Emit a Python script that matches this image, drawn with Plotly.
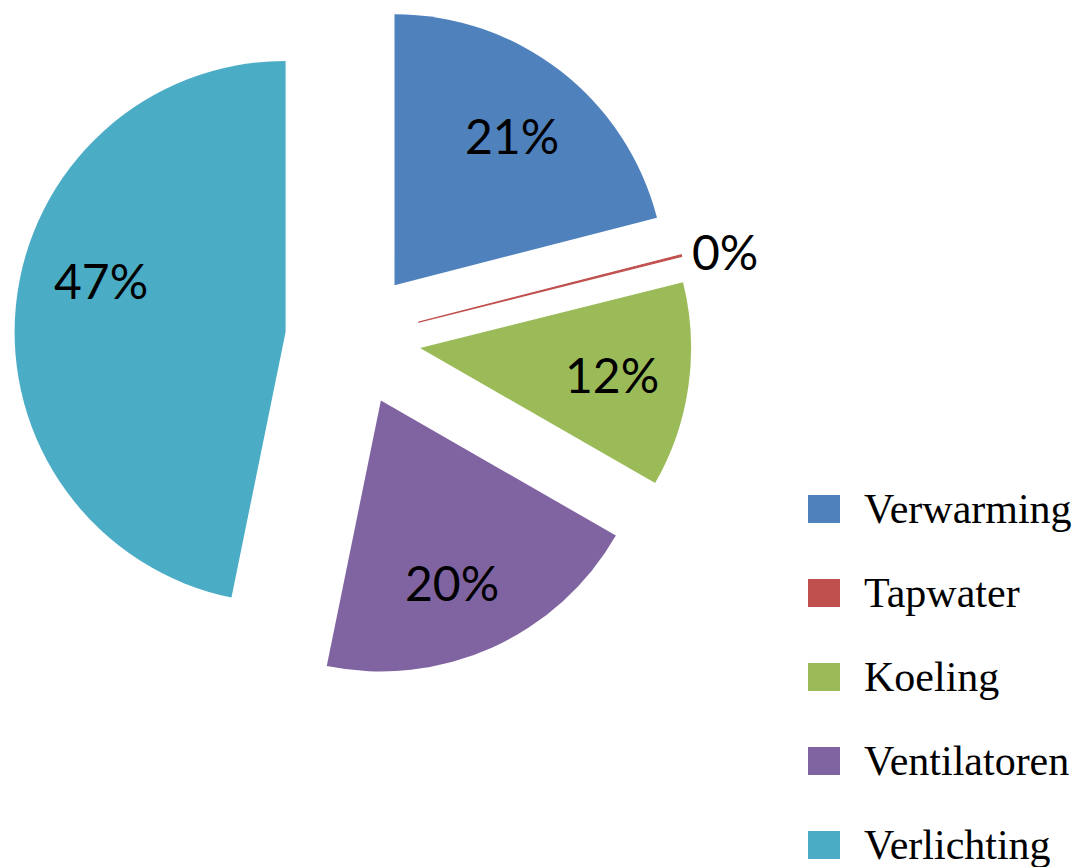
import math
import plotly.graph_objects as go

labels = ["Verwarming", "Tapwater", "Koeling", "Ventilatoren", "Verlichting"]
values = [21.0, 0.1, 12.2, 19.9, 46.8]
colors = ["#4F81BD", "#C0504D", "#9BBB59", "#8064A2", "#4BACC6"]
label_outside = [False, True, False, False, False]

W, H = 1079, 867
PULL = 0.25
# pie domain in pixels (figure has zero margins)
DX0, DX1 = 14.25, 691.75
DY0, DY1 = 0.0, 677.5
# small pixel nudges for the percentage labels (Excel-style best-fit placement)
LABEL_NUDGE = [(0, 2), (7, 5), (1, 0), (-8, 7), (7, -32)]

fig = go.Figure()
fig.add_trace(go.Pie(
    labels=labels,
    values=values,
    sort=False,
    direction="clockwise",
    rotation=0,
    pull=[PULL] * len(labels),
    marker=dict(colors=colors,
                line=dict(color=colors, width=[0, 1.2, 0, 0, 0])),
    textinfo="none",
    domain=dict(x=[DX0 / W, DX1 / W], y=[1 - DY1 / H, 1 - DY0 / H]),
    showlegend=False,
    automargin=False,
    hoverinfo="label+percent",
))

# percentage labels placed along each slice's mid-angle
r = min(DX1 - DX0, DY1 - DY0) / (2 + 2 * PULL)
cx, cy = (DX0 + DX1) / 2, (DY0 + DY1) / 2
total = sum(values)
annotations = []
cum = 0.0
for v, out, (nx, ny) in zip(values, label_outside, LABEL_NUDGE):
    mid = (cum + v / 2) / total * 2 * math.pi
    cum += v
    dist = r * (PULL + (1.14 if out else 0.71))
    px = cx + dist * math.sin(mid) + nx
    py = cy - dist * math.cos(mid) + ny
    annotations.append(dict(text=f"{round(v / total * 100):d}%", xref="paper", yref="paper",
                            x=px / W, y=1 - py / H, xanchor="center", yanchor="middle",
                            showarrow=False,
                            font=dict(family="Lato", size=48, color="#000000")))

# legend drawn as squares + labels on the right
shapes = []
for i, (lab, col) in enumerate(zip(labels, colors)):
    ly = 509 + 84 * i
    shapes.append(dict(type="rect", xref="paper", yref="paper",
                       x0=808 / W, x1=840 / W,
                       y0=1 - (ly + 14) / H, y1=1 - (ly - 14) / H,
                       fillcolor=col, line=dict(width=0)))
    annotations.append(dict(text=lab, xref="paper", yref="paper",
                            x=862 / W, y=1 - ly / H, xanchor="left", yanchor="middle",
                            showarrow=False,
                            font=dict(family="Liberation Serif", size=42, color="#000000")))

fig.update_layout(
    width=W, height=H,
    autosize=False,
    margin=dict(l=0, r=0, t=0, b=0, pad=0, autoexpand=False),
    paper_bgcolor="white",
    plot_bgcolor="white",
    shapes=shapes,
    annotations=annotations,
)

fig.write_html("out.html", config={"displayModeBar": False},
               post_script="document.body.style.margin='0';")
